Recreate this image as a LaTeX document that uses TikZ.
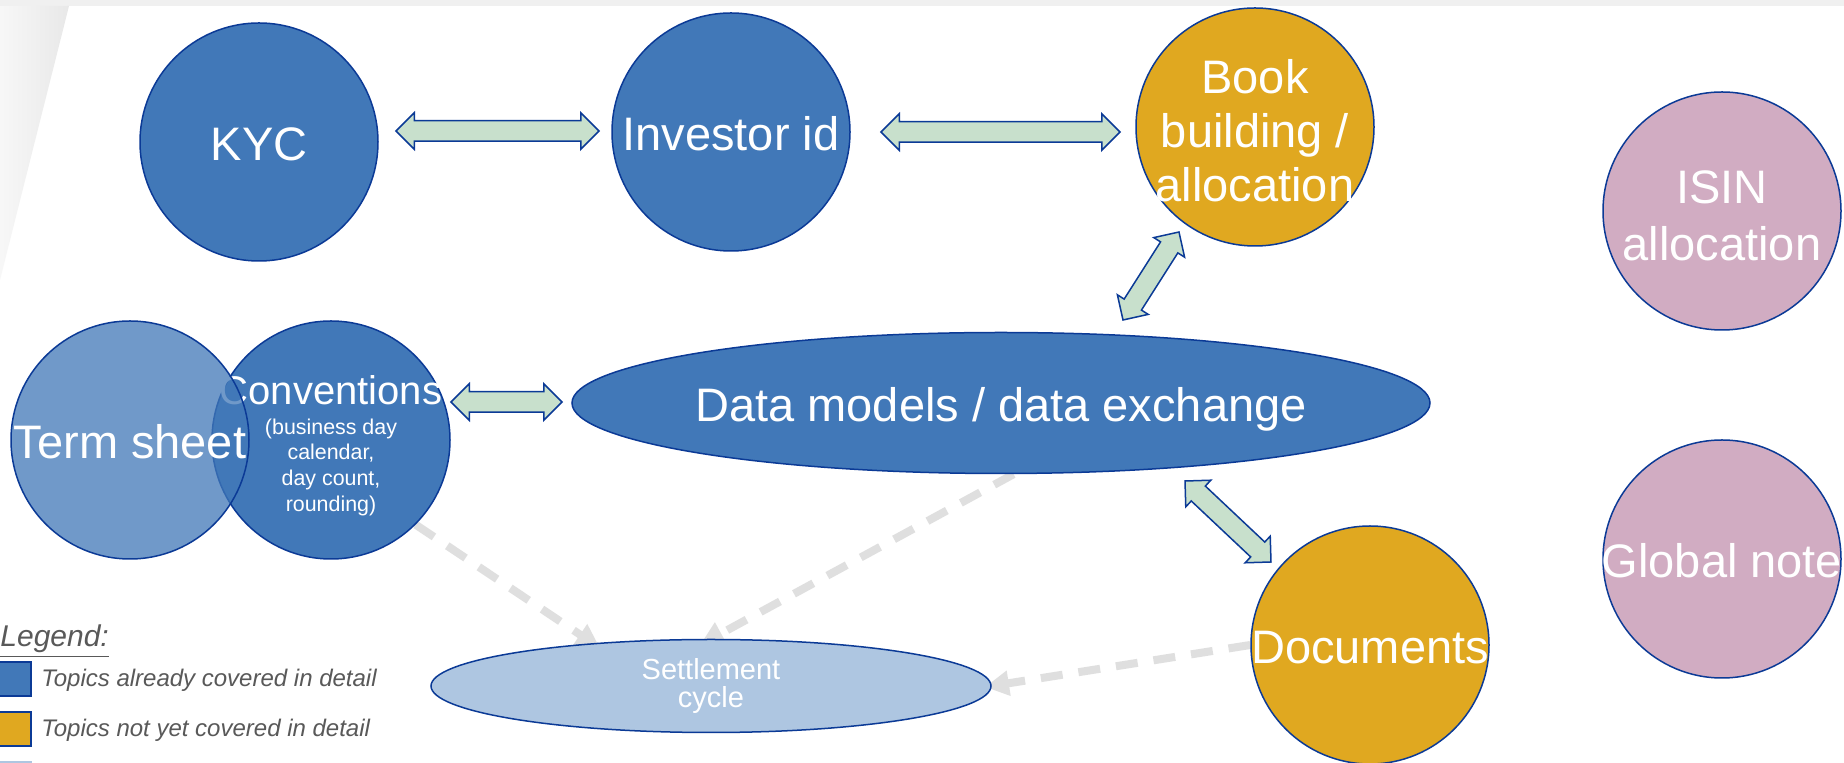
\documentclass[tikz,border=0pt]{standalone}
\usepackage{fontspec}
\setmainfont{Liberation Sans}
\usetikzlibrary{shapes.geometric,shapes.arrows,arrows.meta,calc,backgrounds}

\definecolor{topicblue}{HTML}{4178B8}
\definecolor{topicedge}{HTML}{0B3A96}
\definecolor{topicgold}{HTML}{E0A820}
\definecolor{topicpink}{HTML}{D1ACC2}
\definecolor{settleblue}{HTML}{AEC6E1}
\definecolor{linkgreen}{HTML}{C8E0CC}
\definecolor{flowgray}{HTML}{DFDFDF}
\definecolor{legendgray}{HTML}{595959}
\definecolor{bandgray}{HTML}{F0F0F0}

\newcommand\bigfont{\fontsize{23.5}{27}\selectfont}
\newcommand\subfont{\fontsize{10.7}{12.85}\selectfont}

\tikzset{
  topic/.style={circle, minimum size=119pt, inner sep=-25pt, draw=topicedge, line width=0.75pt, fill=topicblue, text=white, font=\bigfont, align=center},
  pending/.style={topic, fill=topicgold},
  other/.style={topic, fill=topicpink},
  line box/.style={text height=24pt, text depth=5pt},
  fatarrow/.style={double arrow, draw=topicedge, fill=linkgreen, line width=0.75pt, inner sep=4.75pt, double arrow head extend=4pt, double arrow tip angle=90},
  flow/.style={draw=flowgray, line width=4pt, dash pattern=on 11pt off 8pt, -{Triangle[length=12pt,width=12pt]}},
  legendtext/.style={text=legendgray, font=\fontsize{12}{14}\selectfont\itshape, anchor=base west, inner sep=0pt}
}

\newcommand\fatlink[3]{\path let \p1=(#2), \p2=(#3), \n1={atan2(\y2-\y1,\x2-\x1)}, \n2={veclen(\x2-\x1,\y2-\y1)} in node [fatarrow, rotate=\n1, minimum height=\n2] (#1) at ($(#2)!0.5!(#3)$) {};}

\begin{document}
\begin{tikzpicture}[x=0.5pt, y=-0.5pt]
\useasboundingbox (0,0) rectangle (1844,763);

\node [topic, line box] (kyc) at (259,142) {KYC};
\node [topic, line box] (inv) at (731,132) {Investor id};
\node [pending] (book) at (1255,127) {\rule{0pt}{21pt}Book\\building /\\allocation};
\node [other] (isin) at (1722,211) {\rule{0pt}{21pt}ISIN\\[1.5pt]allocation};
\node [topic] (conv) at (331,440) {{\fontsize{20}{24}\selectfont Conventions}\\[-12.25pt]\raisebox{0pt}[\height][35pt]{\subfont\begin{tabular}[t]{@{}c@{}}(business day\\calendar,\\day count,\\rounding)\end{tabular}}};
\node [topic, line box, fill opacity=0.75, text opacity=1] (term) at (130,440) {Term sheet};
\node [topic, line box, ellipse, minimum width=429pt, minimum height=70.5pt, inner sep=-10pt] (data) at (1001,403) {Data models / data exchange};
\node [topic, ellipse, fill=settleblue, minimum width=280pt, minimum height=46.5pt, inner sep=-5pt, font=\fontsize{14.5}{14}\selectfont] (settle) at (711,686) {Settlement\\cycle};
\node [pending, line box] (docs) at (1370,645) {Documents};
\node [other, line box] (glob) at (1722,559) {Global note};

\coordinate (a1s) at (396,131); \coordinate (a1e) at (599,131);
\coordinate (a2s) at (881,132); \coordinate (a2e) at (1120,132);
\coordinate (a3s) at (451,402); \coordinate (a3e) at (562,402);
\coordinate (a4s) at (1179,232); \coordinate (a4e) at (1123,320);
\coordinate (a5s) at (1185,481); \coordinate (a5e) at (1271,562);
\fatlink{kycinv}{a1s}{a1e}
\fatlink{invbook}{a2s}{a2e}
\fatlink{convdata}{a3s}{a3e}
\fatlink{bookdata}{a4s}{a4e}
\fatlink{datadocs}{a5s}{a5e}

\coordinate (s1) at (600,648);
\coordinate (s2) at (700,645);
\coordinate (s3) at (985,687);

\node [legendtext, font=\fontsize{15}{17}\selectfont\itshape] (legend) at (0,647) {\underline{Legend:}};
\foreach \c/\e/\y in {topicblue/topicedge/662, topicgold/topicedge/712, settleblue/settleblue/762} {\draw [fill=\c, draw=\e, line width=0.9pt] (-4,\y) rectangle (31,\y+34);}
\node [legendtext] (done) at (41,687) {Topics already covered in detail};
\node [legendtext] (todo) at (41,737) {Topics not yet covered in detail};

\begin{scope}[on background layer]
\fill [white] (0,0) rectangle (1844,763);
\fill [bandgray] (0,0) rectangle (1844,6);
\shade [left color=white!97!black, right color=white!91!black] (0,6) -- (69,6) -- (0,280) -- cycle;
\draw [flow] (conv.-45) -- (s1);
\draw [flow] (data.-80) -- (s2);
\draw [flow] (docs.west) -- (s3);
\end{scope}
\end{tikzpicture}
\end{document}
